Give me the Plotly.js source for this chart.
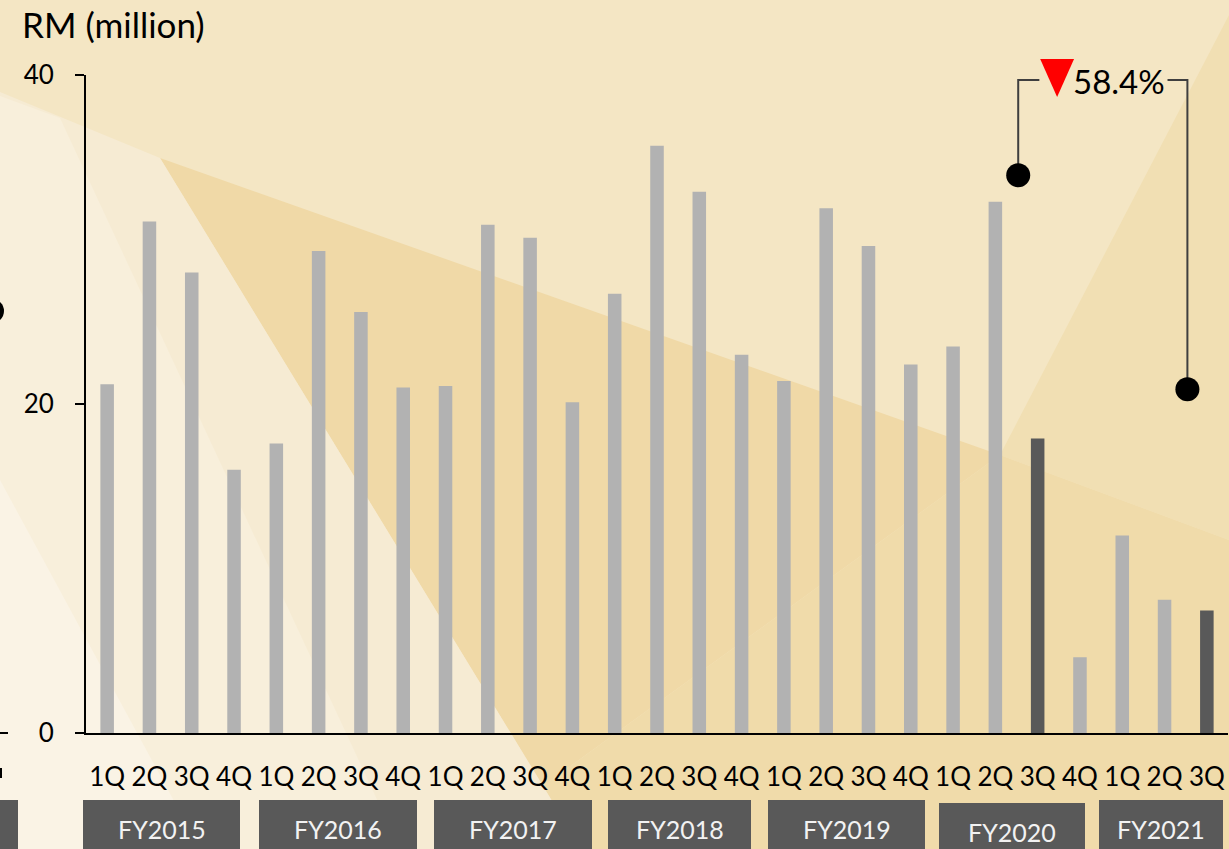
<!DOCTYPE html>
<html>
<head>
<meta charset="utf-8">
<script src="https://cdn.plot.ly/plotly-3.0.1.min.js"></script>
<style>
  html, body { margin: 0; padding: 0; background: #f4e7c6; }
  #chart { width: 1229px; height: 849px; }
</style>
</head>
<body>
<div id="chart"></div>
<script>
// ---------------- DATA ----------------
const quarterLabels = ['1Q','2Q','3Q','4Q','1Q','2Q','3Q','4Q','1Q','2Q','3Q','4Q','1Q','2Q','3Q','4Q','1Q','2Q','3Q','4Q','1Q','2Q','3Q','4Q','1Q','2Q','3Q'];
const fiscalYears = ['FY2015','FY2016','FY2017','FY2018','FY2019','FY2020','FY2021'];
const revenue = [21.2, 31.1, 28.0, 16.0, 17.6, 29.3, 25.6, 21.0,
                 21.1, 30.9, 30.1, 20.1, 26.7, 35.7, 32.9, 23.0,
                 21.4, 31.9, 29.6, 22.4, 23.5, 32.3, 17.9, 4.6,
                 12.0, 8.1, 7.45];
const highlightIdx = [22, 26];          // 3Q FY2020 vs 3Q FY2021
const changeLabel = '58.4%';
const yTicks = [0, 20, 40];
const bracketLevels = [33.9, 20.9];     // heights of the two connector dots
const bracketTop = 39.7;

// ---------------- STYLE / LAYOUT ----------------
const W = 1229, H = 849, ML = 86, MR = 1, MT = 75, MB = 116;
const PW = W - ML - MR, PH = H - MT - MB;
const px = x => (x - ML) / PW;
const py = y => (H - MB - y) / PH;
const FONT = 'Lato, "Open Sans", sans-serif';

const xIdx = revenue.map((_, i) => i);
const barColors = xIdx.map(i => highlightIdx.includes(i) ? '#595959' : '#b2b2b2');

function poly(points, color) {
  const d = points.map((p, i) => (i ? 'L' : 'M') + px(p[0]).toFixed(5) + ',' + py(p[1]).toFixed(5)).join(' ') + ' Z';
  return {type: 'path', xref: 'paper', yref: 'paper', path: d, fillcolor: color, line: {width: 0}, layer: 'below'};
}

const shapes = [
  poly([[0,0],[1229,0],[1229,849],[0,849]], '#f4e6c4'),
  poly([[1229,15],[1229,540],[1000,455]], '#f1dfb3'),
  poly([[1000,455],[1229,540],[1229,849],[581,849],[543,786]], '#f0dbaa'),
  poly([[160,158],[1000,455],[543,786]], '#f0d9a7'),
  poly([[0,92],[160,158],[543,786],[581,849],[0,849]], '#f6ebd3'),
  poly([[0,96],[60,118],[400,849],[0,849]], '#f8efdb'),
  poly([[0,480],[200,849],[0,849]], '#faf3e5')
];

// FY group boxes (pixel extents)
const boxStyle = [
  {x0: 83,  x1: 240,  y0: 800},
  {x0: 259, x1: 417,  y0: 800},
  {x0: 434, x1: 592,  y0: 800},
  {x0: 608, x1: 751,  y0: 800},
  {x0: 768, x1: 925,  y0: 800},
  {x0: 939, x1: 1085, y0: 803},
  {x0: 1099,x1: 1223, y0: 800}
];
const annotations = [];
fiscalYears.forEach((fy, i) => {
  const b = boxStyle[i];
  shapes.push({type: 'rect', xref: 'paper', yref: 'paper', x0: px(b.x0), x1: px(b.x1), y0: py(b.y0), y1: py(H + 5),
               fillcolor: '#595959', line: {width: 0}, layer: 'above'});
  annotations.push({xref: 'paper', yref: 'paper', x: px((b.x0 + b.x1) / 2), y: py(b.y0 + 29),
                    text: fy, showarrow: false, xanchor: 'center', yanchor: 'middle',
                    font: {family: FONT, size: 25, color: '#f2f2f2'}});
});

// fragments of neighbouring chart at the left edge
shapes.push({type: 'circle', xref: 'paper', yref: 'paper', x0: px(-20), x1: px(4), y0: py(323), y1: py(299), fillcolor: '#000', line: {width: 0}});
shapes.push({type: 'line', xref: 'paper', yref: 'paper', x0: px(0), x1: px(8), y0: py(733), y1: py(733), line: {color: '#000', width: 2}});
shapes.push({type: 'rect', xref: 'paper', yref: 'paper', x0: px(0), x1: px(2), y0: py(778), y1: py(768), fillcolor: '#000', line: {width: 0}});
shapes.push({type: 'rect', xref: 'paper', yref: 'paper', x0: px(-5), x1: px(18), y0: py(800), y1: py(855), fillcolor: '#595959', line: {width: 0}});

// bracket geometry derived from highlighted bars
const dotX = highlightIdx.map(i => i - 0.46);
const triX = highlightIdx[0] + 0.46;
shapes.push({type: 'path', xref: 'x', yref: 'paper',
  path: `M${triX - 0.40},${py(59)} L${triX + 0.40},${py(59)} L${triX},${py(97)} Z`,
  fillcolor: '#ff0000', line: {width: 0}, layer: 'above'});
annotations.push({xref: 'x', yref: 'y', x: (dotX[0] + dotX[1]) / 2 + 0.39, y: bracketTop - 0.05,
  text: changeLabel, showarrow: false, xanchor: 'center', yanchor: 'middle',
  font: {family: FONT, size: 33, color: '#000'}});

const traces = [
  {type: 'bar', x: xIdx, y: revenue, width: 0.32, marker: {color: barColors, line: {width: 0}}, hoverinfo: 'skip'},
  {type: 'scatter', mode: 'lines', hoverinfo: 'skip', cliponaxis: false,
   x: [dotX[0], dotX[0], dotX[0] + 0.5, null, dotX[1] - 0.47, dotX[1], dotX[1]],
   y: [bracketLevels[0], bracketTop, bracketTop, null, bracketTop, bracketTop, bracketLevels[1]],
   line: {color: '#3f3f3f', width: 2}},
  {type: 'scatter', mode: 'markers', hoverinfo: 'skip', cliponaxis: false,
   x: dotX, y: bracketLevels, marker: {color: '#000', size: 24}}
];

const layout = {
  width: W, height: H,
  margin: {l: ML, r: MR, t: MT, b: MB, pad: 0},
  paper_bgcolor: '#f4e6c4',
  plot_bgcolor: 'rgba(0,0,0,0)',
  showlegend: false,
  title: {text: 'RM (million)', font: {family: FONT, size: 35, color: '#000'},
          x: 22 / W, xanchor: 'left', xref: 'container', y: 1 - 26 / H, yanchor: 'middle', yref: 'container'},
  xaxis: {range: [-0.5, 26.5], tickvals: xIdx, ticktext: quarterLabels, ticks: '', showgrid: false, zeroline: false,
          showline: true, linecolor: '#000', linewidth: 2, ticklabelstandoff: 20,
          tickfont: {family: FONT, size: 26, color: '#000'}, fixedrange: true},
  yaxis: {range: [0, 40], tickvals: yTicks, ticks: 'outside', ticklen: 9, tickwidth: 2, tickcolor: '#000',
          showgrid: false, zeroline: false, showline: true, linecolor: '#000', linewidth: 2,
          ticklabelstandoff: 16, tickfont: {family: FONT, size: 26, color: '#000'}, fixedrange: true},
  shapes: shapes,
  annotations: annotations
};

Plotly.newPlot('chart', traces, layout, {displayModeBar: false, staticPlot: true});
</script>
</body>
</html>
